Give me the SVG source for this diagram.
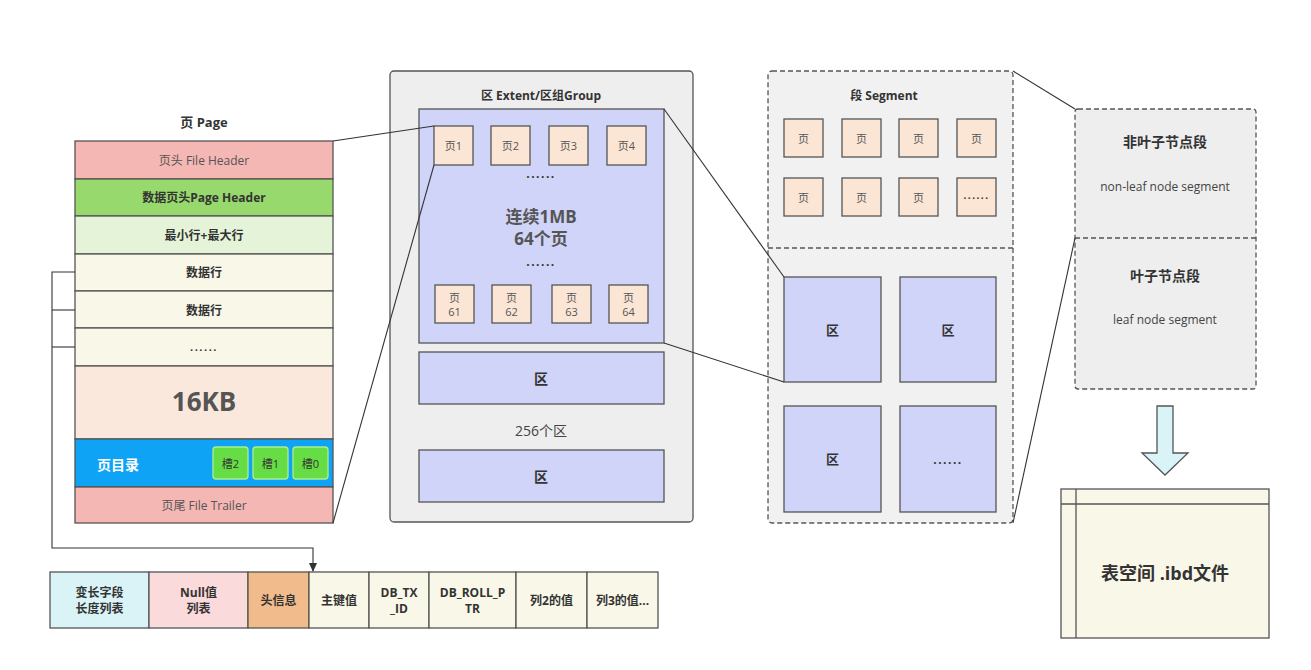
<svg xmlns="http://www.w3.org/2000/svg" width="1311" height="670" viewBox="0 0 1311 670">
<defs>
<marker id="arr" markerWidth="10" markerHeight="10" refX="8" refY="5" orient="auto" markerUnits="userSpaceOnUse"><path d="M0,1 L9,5 L0,9 Z" fill="#333"/></marker>
<style>
text{font-family:"Open Sans","Noto Sans CJK SC",sans-serif;fill:#333;text-anchor:middle;dominant-baseline:central}
.b{font-weight:bold}
.g{fill:#555}
.dots{letter-spacing:1.5px;font-weight:bold}
.s{stroke:#555;stroke-width:1.3}
.pg{fill:#fbe6d6;stroke:#555;stroke-width:1.3}
.bl{fill:#d0d4f8;stroke:#555;stroke-width:1.3}
.ln{fill:none;stroke:#333;stroke-width:1.1}
.d{stroke-dasharray:5 3}
</style>
</defs>
<rect width="1311" height="670" fill="#fff"/>

<g id="page">
<text x="204" y="122" class="b" font-size="13">页 Page</text>
<rect x="75" y="141" width="258" height="38" fill="#f4b7b4" class="s"/>
<text x="204" y="160" font-size="12" class="g">页头 File Header</text>
<rect x="75" y="179" width="258" height="37" fill="#97d96c" class="s"/>
<text x="204" y="197" class="b" font-size="12">数据页头Page Header</text>
<rect x="75" y="216" width="258" height="38" fill="#e5f4d9" class="s"/>
<text x="204" y="235" class="b" font-size="12">最小行+最大行</text>
<rect x="75" y="254" width="258" height="37" fill="#f9f7e8" class="s"/>
<text x="204" y="272" class="b" font-size="12">数据行</text>
<rect x="75" y="291" width="258" height="37" fill="#f9f7e8" class="s"/>
<text x="204" y="310" class="b" font-size="12">数据行</text>
<rect x="75" y="328" width="258" height="38" fill="#f9f7e8" class="s"/>
<text x="204" y="346" font-size="11" class="dots">......</text>
<rect x="75" y="366" width="258" height="73" fill="#fbe8dc" class="s"/>
<text x="204" y="401" class="b g" font-size="26">16KB</text>
<rect x="75" y="439" width="258" height="48" fill="#0fa3f5" class="s"/>
<text x="118" y="464" class="b" font-size="14" style="fill:#fff">页目录</text>
<rect x="213" y="447" width="35" height="32" rx="3" fill="#66dd44" stroke="#a9f08f" stroke-width="1.3"/>
<text x="230.5" y="463" font-size="11">槽2</text>
<rect x="253" y="447" width="35" height="32" rx="3" fill="#66dd44" stroke="#a9f08f" stroke-width="1.3"/>
<text x="270.5" y="463" font-size="11">槽1</text>
<rect x="293" y="447" width="35" height="32" rx="3" fill="#66dd44" stroke="#a9f08f" stroke-width="1.3"/>
<text x="310.5" y="463" font-size="11">槽0</text>
<rect x="75" y="487" width="258" height="36" fill="#f4b7b4" class="s"/>
<text x="204" y="505" font-size="12" class="g">页尾 File Trailer</text>
</g>

<g id="row">
<rect x="50" y="572" width="99" height="56" fill="#d9f3f7" class="s"/>
<text x="99.5" y="592" class="b" font-size="12">变长字段</text>
<text x="99.5" y="608" class="b" font-size="12">长度列表</text>
<rect x="149" y="572" width="99" height="56" fill="#fbdadb" class="s"/>
<text x="198.5" y="592" class="b" font-size="12">Null值</text>
<text x="198.5" y="608" class="b" font-size="12">列表</text>
<rect x="248" y="572" width="61" height="56" fill="#f2bb8b" class="s"/>
<text x="278.5" y="600" class="b" font-size="12">头信息</text>
<rect x="309" y="572" width="60" height="56" fill="#f9f7e8" class="s"/>
<text x="339" y="600" class="b" font-size="12">主键值</text>
<rect x="369" y="572" width="60" height="56" fill="#f9f7e8" class="s"/>
<text x="399" y="592" class="b" font-size="12">DB_TX</text>
<text x="399" y="608" class="b" font-size="12">_ID</text>
<rect x="429" y="572" width="87" height="56" fill="#f9f7e8" class="s"/>
<text x="472.5" y="592" class="b" font-size="12">DB_ROLL_P</text>
<text x="472.5" y="608" class="b" font-size="12">TR</text>
<rect x="516" y="572" width="71" height="56" fill="#f9f7e8" class="s"/>
<text x="551.5" y="600" class="b" font-size="12">列2的值</text>
<rect x="587" y="572" width="71" height="56" fill="#f9f7e8" class="s"/>
<text x="622.5" y="600" class="b" font-size="12">列3的值...</text>
</g>

<g id="extent">
<rect x="390" y="71" width="303" height="451" rx="4" fill="#eeeeee" class="s"/>
<text x="541" y="95" class="b" font-size="12">区 Extent/区组Group</text>
<rect x="419" y="109" width="245" height="234" class="bl"/>
<rect x="434" y="126" width="39" height="39" class="pg"/><text x="453.5" y="145.5" font-size="11" class="g">页1</text>
<rect x="491" y="126" width="39" height="39" class="pg"/><text x="510.5" y="145.5" font-size="11" class="g">页2</text>
<rect x="549" y="126" width="39" height="39" class="pg"/><text x="568.5" y="145.5" font-size="11" class="g">页3</text>
<rect x="607" y="126" width="39" height="39" class="pg"/><text x="626.5" y="145.5" font-size="11" class="g">页4</text>
<text x="541" y="173" font-size="12" class="dots">......</text>
<text x="541" y="216" class="b g" font-size="17">连续1MB</text>
<text x="541" y="238" class="b g" font-size="17">64个页</text>
<text x="541" y="261" font-size="12" class="dots">......</text>
<rect x="435" y="285" width="39" height="38" class="pg"/><text x="454.5" y="297" font-size="11" class="g">页</text><text x="454.5" y="311" font-size="11" class="g">61</text>
<rect x="492" y="285" width="39" height="38" class="pg"/><text x="511.5" y="297" font-size="11" class="g">页</text><text x="511.5" y="311" font-size="11" class="g">62</text>
<rect x="552" y="285" width="39" height="38" class="pg"/><text x="571.5" y="297" font-size="11" class="g">页</text><text x="571.5" y="311" font-size="11" class="g">63</text>
<rect x="609" y="285" width="39" height="38" class="pg"/><text x="628.5" y="297" font-size="11" class="g">页</text><text x="628.5" y="311" font-size="11" class="g">64</text>
<rect x="419" y="352" width="245" height="52" class="bl"/>
<text x="541" y="378" class="b" font-size="14">区</text>
<text x="541" y="430" font-size="14" style="fill:#444">256个区</text>
<rect x="419" y="450" width="245" height="52" class="bl"/>
<text x="541" y="476" class="b" font-size="14">区</text>
</g>

<g id="segment">
<rect x="768" y="71" width="245" height="452" rx="4" fill="#f1f1f1" stroke="#555" stroke-width="1.3" class="d"/>
<line x1="768" y1="248" x2="1013" y2="248" stroke="#555" stroke-width="1.3" class="d"/>
<text x="884" y="95" class="b" font-size="12">段 Segment</text>
<rect x="784" y="119" width="39" height="38" class="pg"/><text x="803.5" y="138" font-size="11" class="g">页</text>
<rect x="842" y="119" width="39" height="38" class="pg"/><text x="861.5" y="138" font-size="11" class="g">页</text>
<rect x="899" y="119" width="39" height="38" class="pg"/><text x="918.5" y="138" font-size="11" class="g">页</text>
<rect x="957" y="119" width="39" height="38" class="pg"/><text x="976.5" y="138" font-size="11" class="g">页</text>
<rect x="784" y="178" width="39" height="38" class="pg"/><text x="803.5" y="197" font-size="11" class="g">页</text>
<rect x="842" y="178" width="39" height="38" class="pg"/><text x="861.5" y="197" font-size="11" class="g">页</text>
<rect x="899" y="178" width="39" height="38" class="pg"/><text x="918.5" y="197" font-size="11" class="g">页</text>
<rect x="957" y="178" width="39" height="38" class="pg"/><text x="976.5" y="195" font-size="10" class="dots">......</text>
<rect x="784" y="277" width="97" height="105" class="bl"/><text x="832.5" y="330" class="b" font-size="13">区</text>
<rect x="900" y="277" width="96" height="105" class="bl"/><text x="948" y="330" class="b" font-size="13">区</text>
<rect x="784" y="406" width="97" height="106" class="bl"/><text x="832.5" y="459" class="b" font-size="13">区</text>
<rect x="900" y="406" width="96" height="106" class="bl"/><text x="948" y="459" font-size="12" class="dots">......</text>
</g>

<g id="segtypes">
<rect x="1075" y="109" width="181" height="280" rx="3" fill="#eeeeee" stroke="#555" stroke-width="1.3" class="d"/>
<line x1="1075" y1="238" x2="1256" y2="238" stroke="#555" stroke-width="1.3" class="d"/>
<text x="1165" y="141" class="b" font-size="14">非叶子节点段</text>
<text x="1165" y="186" font-size="12" style="fill:#444">non-leaf node segment</text>
<text x="1165" y="275" class="b" font-size="14">叶子节点段</text>
<text x="1165" y="319" font-size="12" style="fill:#444">leaf node segment</text>
</g>

<g id="arrow">
<path d="M1157,406 L1173,406 L1173,453 L1188,453 L1165,475 L1142,453 L1157,453 Z" fill="#d9f3f7" stroke="#555" stroke-width="1.3"/>
</g>

<g id="tablespace">
<rect x="1061" y="489" width="208" height="149" fill="#f9f7e8" class="s"/>
<line x1="1076" y1="489" x2="1076" y2="638" class="s"/>
<line x1="1061" y1="504" x2="1269" y2="504" class="s"/>
<text x="1165" y="573" class="b" font-size="18">表空间 .ibd文件</text>
</g>

<g id="connectors">
<line x1="333" y1="141" x2="434" y2="126" class="ln"/>
<line x1="333" y1="523" x2="434" y2="165" class="ln"/>
<line x1="664" y1="109" x2="784" y2="277" class="ln"/>
<line x1="664" y1="343" x2="784" y2="382" class="ln"/>
<line x1="1013" y1="71" x2="1075" y2="109" class="ln"/>
<line x1="1013" y1="523" x2="1075" y2="238" class="ln"/>
<path d="M75,272 H52 V548 H313 V571" class="ln" marker-end="url(#arr)"/>
<line x1="52" y1="310" x2="75" y2="310" class="ln"/>
<line x1="52" y1="347" x2="75" y2="347" class="ln"/>
</g>
</svg>
